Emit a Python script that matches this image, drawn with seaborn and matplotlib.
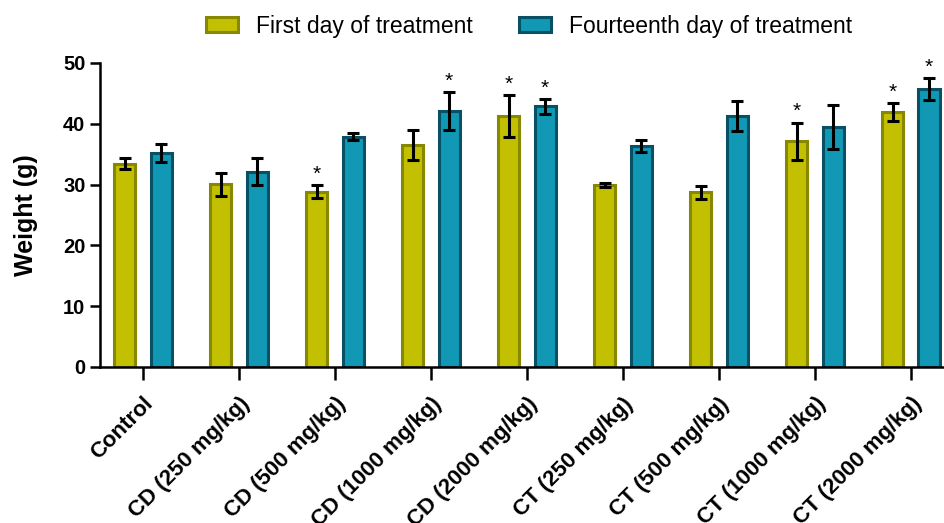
import pandas as pd
import matplotlib
matplotlib.use('Agg')
import matplotlib.pyplot as plt
import seaborn as sns

# data
groups = ['Control', 'CD (250 mg/kg)', 'CD (500 mg/kg)', 'CD (1000 mg/kg)', 'CD (2000 mg/kg)',
          'CT (250 mg/kg)', 'CT (500 mg/kg)', 'CT (1000 mg/kg)', 'CT (2000 mg/kg)']
days = ['First day of treatment', 'Fourteenth day of treatment']
first_mean = [33.4, 30.05, 28.85, 36.45, 41.25, 29.9, 28.7, 37.1, 41.9]
first_err = [0.9, 1.85, 1.05, 2.45, 3.45, 0.35, 1.0, 3.1, 1.45]
fourteenth_mean = [35.2, 32.1, 37.9, 42.05, 42.85, 36.3, 41.3, 39.5, 45.7]
fourteenth_err = [1.45, 2.2, 0.6, 3.15, 1.25, 0.95, 2.5, 3.6, 1.8]
first_star = [0, 0, 1, 0, 1, 0, 0, 1, 1]
fourteenth_star = [0, 0, 0, 1, 1, 0, 0, 0, 1]

df = pd.DataFrame({
    'group': groups * 2,
    'day': [days[0]] * len(groups) + [days[1]] * len(groups),
    'weight': first_mean + fourteenth_mean,
})

sns.set_style('ticks')
plt.rcParams['font.family'] = ['Liberation Sans', 'DejaVu Sans']
plt.rcParams['text.color'] = 'black'
plt.rcParams['axes.labelcolor'] = 'black'
plt.rcParams['axes.edgecolor'] = 'black'
plt.rcParams['xtick.color'] = 'black'
plt.rcParams['ytick.color'] = 'black'

fills = ['#C2C000', '#1098B4']
edges = ['#888800', '#0A5064']

fig = plt.figure(figsize=(9.45, 5.23), dpi=100)
ax = fig.add_axes([0.1058, 0.2983, 0.894, 0.5813])

sns.barplot(data=df, x='group', y='weight', hue='day', order=groups, hue_order=days,
            palette=fills, saturation=1, errorbar=None, width=0.76, gap=0.42,
            linewidth=2.2, ax=ax)

errs = [first_err, fourteenth_err]
means = [first_mean, fourteenth_mean]
stars = [first_star, fourteenth_star]
bar_conts = list(ax.containers)
for i, cont in enumerate(bar_conts):
    xs = []
    for p in cont.patches:
        p.set_edgecolor(edges[i])
        xs.append(p.get_x() + p.get_width() / 2)
    ax.errorbar(xs, means[i], yerr=errs[i], fmt='none', ecolor='black',
                elinewidth=2.2, capsize=4.5, capthick=2.2, zorder=5)
    for x, m, e, s in zip(xs, means[i], errs[i], stars[i]):
        if s:
            ax.annotate('*', (x, m + e), xytext=(0, 1), textcoords='offset points',
                        ha='center', va='bottom', fontsize=15)

ax.set_ylim(0, 50)
ax.set_xlim(-0.448, 8.354)
ax.set_yticks([0, 10, 20, 30, 40, 50])
ax.set_xlabel('')
ax.set_ylabel('Weight (g)', fontsize=18, fontweight='bold', labelpad=18)
ax.tick_params(axis='y', labelsize=14.5, width=1.8, length=7)
ax.tick_params(axis='x', labelsize=16, width=1.8, length=9, pad=10)
for t in ax.get_yticklabels():
    t.set_fontweight('bold')
for t in ax.get_xticklabels():
    t.set_fontweight('bold')
    t.set_rotation(45)
    t.set_ha('right')
    t.set_rotation_mode('anchor')
for s in ['left', 'bottom']:
    ax.spines[s].set_linewidth(1.8)
sns.despine(ax=ax)

handles, labels = ax.get_legend_handles_labels()
for h, ec in zip(handles, edges):
    h.set_edgecolor(ec)
    h.set_linewidth(2.2)
ax.legend(handles, labels, loc='lower center', bbox_to_anchor=(0.508, 1.015), ncol=2,
          frameon=False, fontsize=16.5, handlelength=1.4, handleheight=0.6,
          handletextpad=0.8, columnspacing=2.0)

fig.savefig('out.png', dpi=100)
